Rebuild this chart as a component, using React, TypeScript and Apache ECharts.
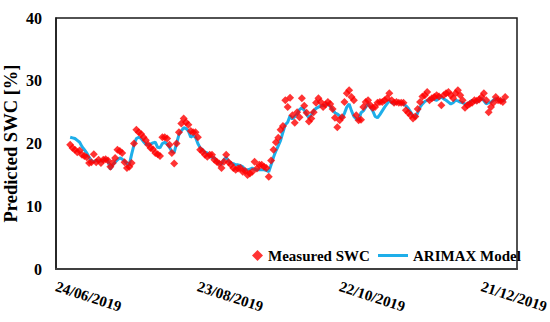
import React, { useEffect, useRef } from "react";
import * as echarts from "echarts";

// x = days since 24/06/2019
const tickLabels = ["24/06/2019", "23/08/2019", "22/10/2019", "21/12/2019"];
const firstDay = 6;

const measuredSWC = [
  19.8, 19.3, 19.0, 18.6, 18.9, 18.2, 18.0, 17.8, 16.9, 17.0,
  18.3, 17.0, 17.4, 16.9, 17.4, 17.5, 17.3, 16.3, 16.9, 17.7,
  19.0, 18.8, 18.5, 17.0, 16.1, 16.3, 16.9, 20.0, 22.2, 21.8,
  21.5, 21.0, 20.5, 19.8, 19.3, 19.1, 18.5, 18.3, 18.0, 21.0,
  21.0, 20.8, 19.8, 18.5, 16.8, 20.0, 21.8, 23.2, 24.0, 23.4,
  23.0, 22.0, 21.8, 21.8, 21.0, 19.0, 18.7, 18.2, 17.9, 18.2,
  18.2, 17.4, 17.1, 16.8, 16.1, 17.1, 18.2, 17.0, 16.6, 16.1,
  15.8, 16.0, 16.1, 15.5, 15.6, 15.0, 15.2, 15.5, 17.1, 16.0,
  16.6, 16.6, 16.3, 16.1, 14.7, 17.3, 19.0, 20.2, 20.9, 22.2,
  22.8, 26.9, 25.8, 27.3, 24.5, 23.3, 25.0, 24.2, 27.2, 26.0,
  24.9, 23.5, 24.0, 25.0, 26.5, 27.2, 26.6, 25.8, 26.2, 26.6,
  26.3, 25.5, 24.1, 22.6, 23.7, 24.2, 26.6, 28.0, 28.5, 27.4,
  26.9, 24.5, 23.7, 23.8, 25.8, 26.6, 26.9, 26.1, 25.7, 25.8,
  26.5, 26.6, 26.6, 26.9, 27.2, 28.0, 26.9, 26.5, 26.6, 26.5,
  26.5, 26.5, 25.3, 24.9, 24.5, 24.0, 24.3, 25.5, 26.6, 27.5,
  27.7, 28.2, 26.9, 27.2, 27.4, 27.7, 27.5, 26.1, 27.7, 28.0,
  28.2, 27.7, 27.2, 28.0, 28.5, 27.7, 26.9, 25.7, 26.1, 26.3,
  26.5, 26.9, 26.8, 27.0, 27.4, 28.0, 26.9, 25.0, 25.8, 26.5,
  27.4, 26.9, 26.8, 26.6, 27.4,
];

const arimaxModel = [
  21.0, 20.9, 20.8, 20.5, 20.2, 19.5, 19.0, 18.5, 17.8, 17.2,
  17.1, 17.3, 17.2, 17.2, 17.3, 17.6, 17.2, 15.9, 16.6, 17.0,
  17.4, 17.7, 17.5, 17.2, 16.8, 16.6, 18.3, 19.8, 20.8, 21.0,
  20.8, 20.3, 19.9, 19.8, 19.9, 20.1, 20.2, 19.4, 19.3, 20.0,
  20.2, 19.9, 19.4, 18.7, 18.6, 20.0, 21.4, 22.0, 22.5, 22.4,
  22.0, 21.0, 21.3, 21.0, 20.0, 19.3, 19.0, 18.6, 18.5, 17.9,
  17.8, 17.7, 17.2, 16.8, 16.7, 17.4, 17.8, 17.2, 16.9, 16.8,
  16.6, 16.6, 16.5, 16.3, 15.8, 15.8, 15.9, 16.1, 15.9, 15.8,
  15.8, 15.8, 15.8, 15.7, 15.5, 16.6, 17.8, 18.8, 19.6, 20.5,
  21.8, 23.0, 23.4, 24.4, 23.9, 24.3, 24.7, 25.4, 25.7, 25.3,
  24.6, 24.1, 24.6, 25.2, 25.6, 25.8, 26.0, 26.0, 26.2, 26.3,
  25.9, 25.4, 24.9, 24.7, 24.4, 24.0, 24.8, 25.8, 26.3, 25.2,
  24.3, 23.9, 23.7, 24.9, 25.2, 25.8, 26.3, 25.8, 25.2, 24.3,
  24.1, 24.6, 25.2, 25.8, 26.3, 26.8, 26.5, 26.3, 26.5, 26.6,
  26.4, 26.3, 26.0, 25.6, 25.0, 24.4, 24.1, 24.9, 25.8, 26.3,
  26.7, 26.9, 27.0, 27.2, 27.0, 26.9, 27.2, 27.4, 27.1, 26.9,
  26.6, 26.3, 26.5, 26.9, 26.8, 26.6, 26.5, 26.3, 26.3, 26.6,
  26.9, 26.7, 26.6, 26.9, 27.2, 26.8, 26.3, 26.5, 26.6, 26.9,
  27.2, 26.9, 27.0, 26.8, 27.0,
];

const FONT = "'Liberation Serif', 'Times New Roman', serif";

export default function App() {
  const ref = useRef<HTMLDivElement>(null);
  useEffect(() => {
    if (!ref.current) return;
    const chart = echarts.init(ref.current, undefined, { renderer: "svg" });
    const measuredData = measuredSWC.map((v, i) => [firstDay + i, v]);
    const modelData = arimaxModel.map((v, i) => [firstDay + i, v]);
    chart.setOption({
      animation: false,
      backgroundColor: "#ffffff",
      grid: {
        left: 56,
        right: 33,
        top: 18,
        bottom: 53,
        show: true,
        containLabel: false,
        outerBoundsMode: "none",
        borderColor: "#1a1a1a",
        borderWidth: 1.5,
      },
      legend: [
        {
          left: 247,
          top: 243,
          itemWidth: 11,
          itemHeight: 11,
          itemGap: 0,
          data: [{ name: "Measured SWC", icon: "diamond" }],
          textStyle: { fontFamily: FONT, fontWeight: "bold", fontSize: 15, color: "#000" },
        },
        {
          left: 373,
          top: 243,
          itemWidth: 30,
          itemHeight: 3,
          data: [{ name: "ARIMAX Model", icon: "rect" }],
          textStyle: { fontFamily: FONT, fontWeight: "bold", fontSize: 15, color: "#000" },
        },
      ],
      xAxis: {
        type: "value",
        min: 0,
        max: 195,
        interval: 60,
        splitLine: { show: false },
        axisTick: { show: false },
        axisLine: { show: true, lineStyle: { color: "#404040", width: 2 } },
        axisLabel: {
          rotate: -18,
          margin: 17,
          fontFamily: FONT,
          fontWeight: "bold",
          fontSize: 15,
          color: "#000",
          showMaxLabel: false,
          formatter: (v: number) => (v % 60 === 0 ? tickLabels[v / 60] ?? "" : ""),
        },
      },
      yAxis: {
        type: "value",
        min: 0,
        max: 40,
        interval: 10,
        name: "Predicted SWC [%]",
        nameLocation: "middle",
        nameGap: 36,
        nameMoveOverlap: false,
        nameTextStyle: { fontFamily: FONT, fontWeight: "bold", fontSize: 18.5, color: "#000" },
        splitLine: { show: false },
        axisTick: { show: false },
        axisLine: { show: true, lineStyle: { color: "#1a1a1a", width: 1.5 } },
        axisLabel: {
          margin: 14,
          fontFamily: FONT,
          fontWeight: "bold",
          fontSize: 16,
          color: "#000",
        },
      },
      series: [
        {
          name: "ARIMAX Model",
          type: "line",
          data: modelData,
          showSymbol: false,
          symbol: "none",
          lineStyle: { color: "#1eaee9", width: 3 },
          itemStyle: { color: "#1eaee9" },
          z: 2,
        },
        {
          name: "Measured SWC",
          type: "scatter",
          data: measuredData,
          symbol: "diamond",
          symbolSize: 8,
          itemStyle: { color: "#ff0000" },
          z: 3,
        },
      ],
    });
    return () => chart.dispose();
  }, []);
  return (
    <div
      ref={ref}
      style={{ position: "fixed", left: 0, top: 0, width: 550, height: 322, background: "#fff" }}
    />
  );
}
